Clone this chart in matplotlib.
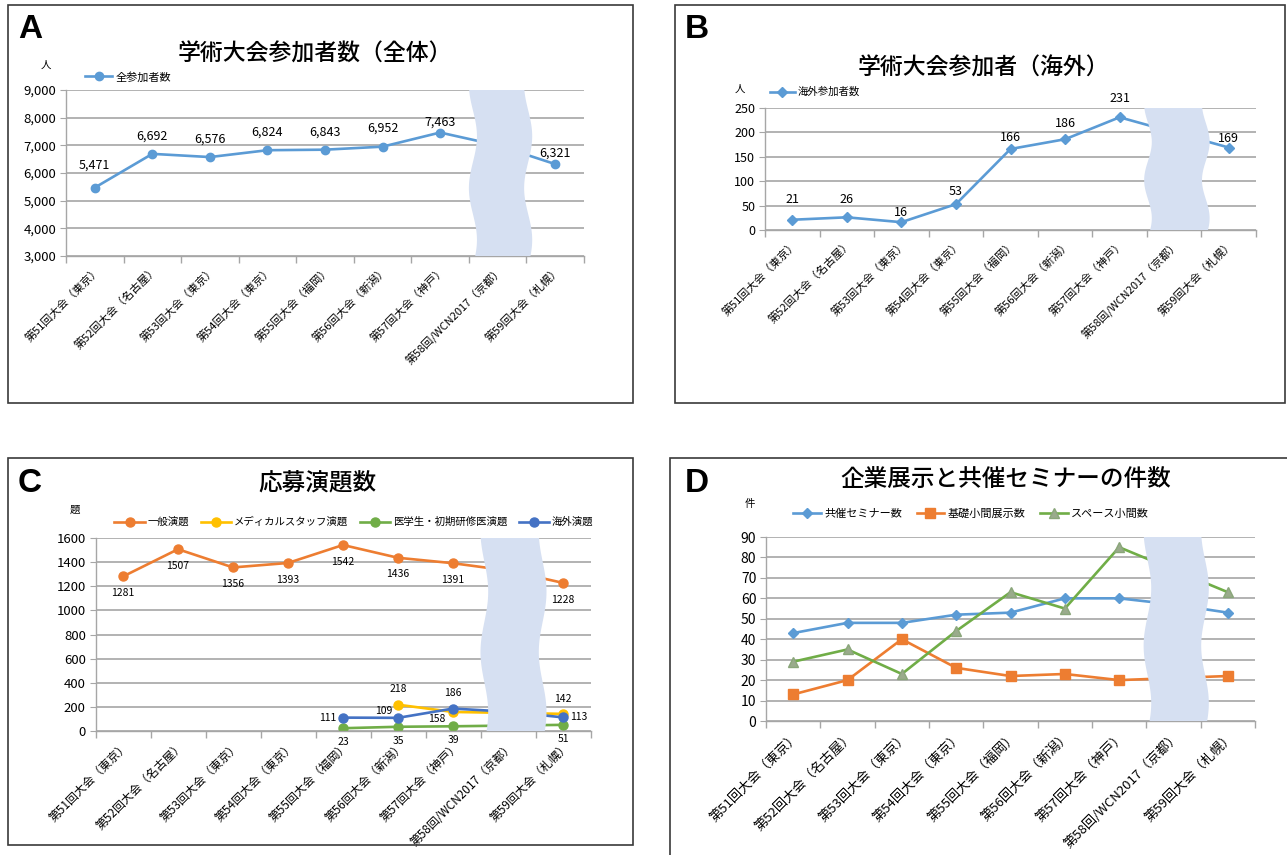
import numpy as np
import matplotlib
matplotlib.use("Agg")
import matplotlib.pyplot as plt
import matplotlib.transforms as mtransforms
from matplotlib.patches import Rectangle, Polygon

plt.rcParams['font.family'] = ['Noto Sans CJK JP', 'DejaVu Sans']

W, H = 1287, 855

categories = ['第51回大会（東京）', '第52回大会（名古屋）', '第53回大会（東京）',
              '第54回大会（東京）', '第55回大会（福岡）', '第56回大会（新潟）',
              '第57回大会（神戸）', '第58回/WCN2017（京都）', '第59回大会（札幌）']

# panel A / B
total_participants = [5471, 6692, 6576, 6824, 6843, 6952, 7463, 7000, 6321]
overseas_participants = [21, 26, 16, 53, 166, 186, 231, 200, 169]
# panel C
general_abstracts = [1281, 1507, 1356, 1393, 1542, 1436, 1391, 1330, 1228]
staff_abstracts = [np.nan, np.nan, np.nan, np.nan, np.nan, 218, 158, 150, 142]
student_abstracts = [np.nan, np.nan, np.nan, np.nan, 23, 35, 39, 45, 51]
overseas_abstracts = [np.nan, np.nan, np.nan, np.nan, 111, 109, 186, 160, 113]
# panel D
seminars = [43, 48, 48, 52, 53, 60, 60, 57, 53]
booths_basic = [13, 20, 40, 26, 22, 23, 20, 21, 22]
booths_space = [29, 35, 23, 44, 63, 55, 85, 74, 63]

HIDDEN = 7  # 第58回 is covered by the break mark
GRID = '#a6a6a6'
WAVE = '#d6e0f2'
LW = 1.9

# label lift above each point, in pixels (hand placed in the source chart)
lift_a = [22, 18, 18, 18, 18, 19, 10, 0, 11]
lift_b = [20, 18, 10, 13, 11, 16, 19, 0, 9]

fig = plt.figure(figsize=(W / 100, H / 100), dpi=100)
fig.patch.set_facecolor('white')


def axes_px(left, top, right, bottom):
    return fig.add_axes([left / W, 1 - bottom / H, (right - left) / W, (bottom - top) / H])


def frame_px(x0, y0, x1, y1):
    fig.add_artist(Rectangle((x0 / W, 1 - y1 / H), (x1 - x0) / W, (y1 - y0) / H,
                             transform=fig.transFigure, fill=False,
                             edgecolor='#3a3a3a', linewidth=1.2))


def text_px(x, y, s, **kw):
    fig.text(x / W, 1 - y / H, s, ha='center', va='center', **kw)


def style(ax, ylim, step, fmt, ysize, xsize):
    ax.set_xlim(-0.5, len(categories) - 0.5)
    ax.set_ylim(*ylim)
    ax.set_yticks(np.arange(ylim[0], ylim[1] + 1, step))
    ax.yaxis.set_major_formatter(plt.FuncFormatter(lambda v, _: fmt.format(int(v))))
    ax.set_xticks(range(len(categories)))
    ax.set_xticklabels(categories, rotation=45, ha='right', va='top',
                       rotation_mode='anchor', fontsize=xsize)
    ax.set_xticks(np.arange(-0.5, len(categories)), minor=True)
    ax.tick_params(axis='x', which='major', length=0, pad=6)
    ax.tick_params(axis='x', which='minor', length=5, color=GRID, width=1)
    ax.tick_params(axis='y', length=4, color=GRID, labelsize=ysize, pad=3)
    ax.grid(axis='y', color=GRID, linewidth=1.2)
    ax.set_axisbelow(True)
    for side in ('top', 'right'):
        ax.spines[side].set_visible(False)
    for side in ('left', 'bottom'):
        ax.spines[side].set_color(GRID)
        ax.spines[side].set_linewidth(1.0)


def draw_break(ax, xc=7.05, hw=0.53, amp=0.07):
    t = np.linspace(0, 1, 120)
    off = amp * np.sin(2 * np.pi * 1.6 * t + 0.6)
    verts = list(zip(xc - hw + off, t)) + list(zip((xc + hw + off)[::-1], t[::-1]))
    trans = mtransforms.blended_transform_factory(ax.transData, ax.transAxes)
    ax.add_patch(Polygon(verts, closed=True, transform=trans, facecolor=WAVE,
                         edgecolor='none', zorder=5, clip_on=False))


def legend_px(ax, x, y, ncol, size, hl=2.6, cs=1.1):
    ax.legend(loc='center', bbox_to_anchor=(x / W, 1 - y / H), bbox_transform=fig.transFigure,
              ncol=ncol, frameon=False, fontsize=size, handlelength=hl,
              handletextpad=0.3, columnspacing=cs, borderpad=0)


def labels(ax, values, fmt, dx, dy, size, skip=()):
    for i, v in enumerate(values):
        if i == HIDDEN or i in skip or np.isnan(v):
            continue
        ddy = dy[i] * 0.72 if isinstance(dy, list) else dy
        ax.annotate(fmt.format(int(v)), (i, v), xytext=(dx, ddy), textcoords='offset points',
                    ha='center', va='center', fontsize=size, zorder=6)


x = np.arange(len(categories))

# ---- A
frame_px(8, 5, 633, 403)
text_px(30, 30, 'A', fontsize=24, weight='bold', family='Liberation Sans')
text_px(315, 54, '学術大会参加者数（全体）', fontsize=16.5, weight='medium')
text_px(46, 65, '人', fontsize=7.5)
ax = axes_px(66, 90, 584, 256)
style(ax, (3000, 9000), 1000, '{:,}', 9.5, 8)
ax.plot(x, total_participants, color='#5b9bd5', lw=LW, marker='o', ms=6, label='全参加者数')
labels(ax, total_participants, '{:,}', 0, lift_a, 9)
draw_break(ax, hw=0.48)
legend_px(ax, 128, 77, 1, 8, hl=2.4)

# ---- B
frame_px(675, 5, 1285, 403)
text_px(697, 30, 'B', fontsize=24, weight='bold', family='Liberation Sans')
text_px(983, 68, '学術大会参加者（海外）', fontsize=16.5, weight='medium')
text_px(740, 89, '人', fontsize=7.5)
ax = axes_px(765, 108, 1256, 230)
style(ax, (0, 250), 50, '{}', 9, 8)
ax.plot(x, overseas_participants, color='#5b9bd5', lw=LW, marker='D', ms=5, label='海外参加者数')
labels(ax, overseas_participants, '{}', 0, lift_b, 9)
draw_break(ax)
legend_px(ax, 815, 92, 1, 7.5, hl=2.4)

# ---- C
frame_px(8, 458, 633, 845)
text_px(30, 483, 'C', fontsize=24, weight='bold', family='Liberation Sans')
text_px(317, 483, '応募演題数', fontsize=17, weight='medium')
text_px(75, 510, '題', fontsize=7.5)
ax = axes_px(95.5, 538, 590.5, 731)
style(ax, (0, 1600), 200, '{}', 9.5, 8.5)
ax.plot(x, general_abstracts, color='#ed7d31', lw=LW, marker='o', ms=6.5, label='一般演題')
ax.plot(x, staff_abstracts, color='#ffc000', lw=LW, marker='o', ms=6.5, label='メディカルスタッフ演題')
ax.plot(x, student_abstracts, color='#70ad47', lw=LW, marker='o', ms=6.5, label='医学生・初期研修医演題')
ax.plot(x, overseas_abstracts, color='#4472c4', lw=LW, marker='o', ms=6.5, label='海外演題')
labels(ax, general_abstracts, '{}', 0, -12, 7.5)
labels(ax, staff_abstracts, '{}', 0, 11, 7.5, skip=(6,))
ax.annotate(str(int(staff_abstracts[6])), (6, staff_abstracts[6]), xytext=(-12, -5),
            textcoords='offset points', ha='center', va='center', fontsize=7.5)
labels(ax, student_abstracts, '{}', 0, -10, 7.5)
for i, dx, dy, ha in [(4, -5, 0, 'right'), (5, -10, 5, 'center'), (6, 0, 11, 'center'),
                      (8, 5, 0, 'left')]:
    ax.annotate(str(int(overseas_abstracts[i])), (i, overseas_abstracts[i]), xytext=(dx, dy),
                textcoords='offset points', ha=ha, va='center', fontsize=7.5)
draw_break(ax, xc=7.1, hw=0.53)
legend_px(ax, 354, 522, 4, 7.5, hl=2.9, cs=1.1)

# ---- D
frame_px(670, 458, 1295, 865)
text_px(697, 483, 'D', fontsize=24, weight='bold', family='Liberation Sans')
text_px(1006, 479, '企業展示と共催セミナーの件数', fontsize=17, weight='medium')
text_px(750, 504, '件', fontsize=7.5)
ax = axes_px(766, 537, 1255, 721)
style(ax, (0, 90), 10, '{}', 10, 9.5)
ax.plot(x, seminars, color='#5b9bd5', lw=LW, marker='D', ms=5, label='共催セミナー数')
ax.plot(x, booths_basic, color='#ed7d31', lw=LW, marker='s', ms=7, label='基礎小間展示数')
ax.plot(x, booths_space, color='#70ad47', lw=LW, marker='^', ms=7, mfc='#9aab8c',
        mec='#8aa67a', label='スペース小間数')
draw_break(ax)
legend_px(ax, 971, 514, 3, 8, hl=2.5, cs=1.3)

fig.savefig('out.png', dpi=100, facecolor='white')
